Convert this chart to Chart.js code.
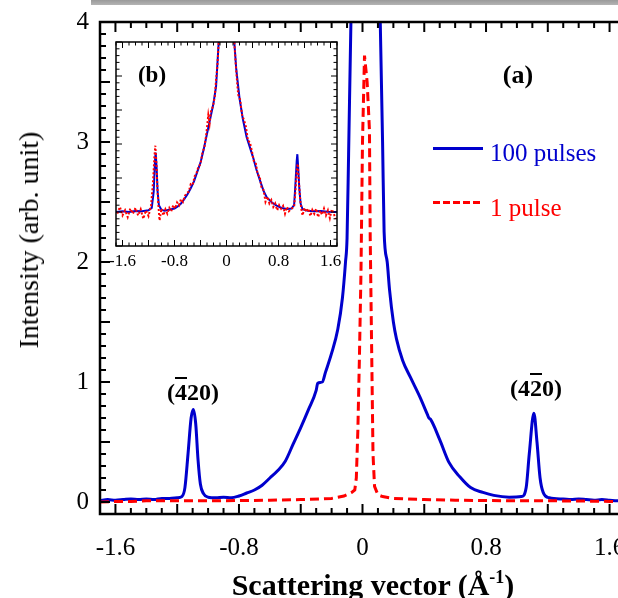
<!DOCTYPE html>
<html>
<head>
<meta charset="utf-8">
<script src="https://cdn.jsdelivr.net/npm/chart.js@4.4.1/dist/chart.umd.min.js"></script>
<style>
  html, body { margin: 0; padding: 0; background: #fff; overflow: hidden; }
  #page { position: relative; width: 618px; height: 598px; overflow: hidden;
          font-family: "Liberation Serif", "Times New Roman", serif; color: #000; }
  #topBar { position: absolute; left: 91px; top: 0; width: 527px; height: 5px;
            background: linear-gradient(#9a9a9a, #b4b4b4); }
  #mainWrap { position: absolute; left: 0; top: 0; width: 640px; height: 598px; }
  #insetWrap { position: absolute; left: 96px; top: 36px; width: 260px; height: 240px; }
  .txt { position: absolute; white-space: nowrap; line-height: 1; transform: translate(-50%, -50%); }
  .bold { font-weight: bold; }
  .ov { text-decoration: overline; text-decoration-thickness: 2px; }
  .legLine { position: absolute; height: 3px; }
  .legText { position: absolute; white-space: nowrap; line-height: 1; font-size: 25px; transform: translateY(-50%); }
  sup { font-size: 0.6em; vertical-align: 0.65em; line-height: 0; }
</style>
</head>
<body>
<div id="page">
  <div id="topBar"></div>
  <div id="mainWrap"><canvas id="mainChart" width="640" height="598"></canvas></div>
  <div id="insetWrap"><canvas id="insetChart" width="260" height="240"></canvas></div>

  <div class="txt" style="left:29px; top:240px; font-size:28px; transform:translate(-50%,-50%) rotate(-90deg);">Intensity (arb. unit)</div>
  <div class="txt bold" style="left:373px; top:585px; font-size:30px;">Scattering vector (Å<sup>-1</sup>)</div>

  <div class="txt bold" style="left:518px; top:75px; font-size:26px;">(a)</div>
  <div class="txt bold" style="left:152px; top:74px; font-size:23px;">(b)</div>

  <div class="txt bold" style="left:193px; top:392px; font-size:24px;">(<span class="ov">4</span>20)</div>
  <div class="txt bold" style="left:536px; top:388px; font-size:24px;">(4<span class="ov">2</span>0)</div>

  <div class="legLine" style="left:433px; top:147px; width:50px; background:#0000cd;"></div>
  <div class="legText" style="left:490px; top:152px; color:#0000cd;">100 pulses</div>
  <div class="legLine" style="left:433px; top:201px; width:50px;
       background:repeating-linear-gradient(to right, #ff0000 0 7px, transparent 7px 10px);"></div>
  <div class="legText" style="left:490px; top:207px; color:#ff0000;">1 pulse</div>
</div>

<script>
// ---- main panel (a): intensity vs scattering vector ----
const q100 = [-1.70, -1.65, -1.60, -1.55, -1.50, -1.45, -1.40, -1.35, -1.30, -1.25, -1.20, -1.17,
  -1.15, -1.13, -1.11, -1.095, -1.08, -1.065, -1.05, -1.03, -1.00, -0.95, -0.90, -0.85, -0.80,
  -0.75, -0.70, -0.65, -0.60, -0.55, -0.50, -0.45, -0.40, -0.35, -0.30, -0.29, -0.26, -0.24,
  -0.20, -0.16, -0.13, -0.11, -0.10, -0.09, -0.075, -0.05, 0.02, 0.09, 0.115, 0.13, 0.14, 0.16,
  0.175, 0.20, 0.22, 0.26, 0.31, 0.37, 0.42, 0.43, 0.44, 0.50, 0.56, 0.63, 0.70, 0.78, 0.85,
  0.95, 1.03, 1.06, 1.08, 1.11, 1.13, 1.15, 1.17, 1.21, 1.30, 1.35, 1.40, 1.45, 1.50, 1.55,
  1.60, 1.65, 1.70];
const pulses100 = [0.01, 0.02, 0.015, 0.02, 0.025, 0.02, 0.025, 0.02, 0.03, 0.03, 0.035, 0.045,
  0.12, 0.40, 0.70, 0.77, 0.65, 0.35, 0.15, 0.07, 0.04, 0.035, 0.04, 0.035, 0.05,
  0.075, 0.10, 0.14, 0.20, 0.26, 0.34, 0.48, 0.62, 0.77, 0.93, 0.99, 1.00, 1.08,
  1.24, 1.44, 1.70, 2.00, 2.20, 2.90, 4.00, 5.50, 7.00, 5.50, 4.00, 3.00, 2.25, 2.00,
  1.77, 1.50, 1.36, 1.18, 1.04, 0.88, 0.73, 0.70, 0.69, 0.52, 0.33, 0.21, 0.12, 0.08, 0.055,
  0.04, 0.045, 0.12, 0.40, 0.74, 0.50, 0.20, 0.08, 0.035, 0.025, 0.02, 0.025, 0.02, 0.015, 0.02,
  0.015, 0.01, 0.01];

const q1 = [-1.70, -1.60, -1.50, -1.40, -1.20, -1.00, -0.80, -0.60, -0.40, -0.20, -0.12, -0.07,
  -0.05, -0.04, -0.03, -0.02, -0.01, 0.00, 0.013, 0.03, 0.045, 0.05, 0.06, 0.068, 0.078, 0.10,
  0.13, 0.20, 0.40, 0.60, 0.80, 1.00, 1.20, 1.40, 1.60, 1.70];
const pulse1 = [0.0, 0.005, 0.005, 0.01, 0.01, 0.01, 0.012, 0.015, 0.02, 0.03, 0.05, 0.08,
  0.10, 0.20, 0.60, 1.20, 1.90, 3.00, 3.72, 3.50, 3.10, 2.20, 1.20, 0.40, 0.13, 0.06,
  0.045, 0.03, 0.02, 0.015, 0.012, 0.01, 0.01, 0.008, 0.005, 0.0];

const xLabels = [-1.6, -0.8, 0, 0.8, 1.6];
const yLabels = [0, 1, 2, 3, 4];

// ---- inset (b): same scan, magnified ----
const insetQ100 = [-1.70, -1.60, -1.50, -1.40, -1.30, -1.20, -1.15, -1.12, -1.10, -1.09, -1.075,
  -1.06, -1.04, -1.00, -0.95, -0.90, -0.85, -0.80, -0.75, -0.70, -0.65, -0.60, -0.55, -0.50,
  -0.45, -0.40, -0.35, -0.30, -0.25, -0.20, -0.16, -0.14, -0.12, -0.10, 0.0, 0.10, 0.12, 0.15,
  0.20, 0.25, 0.31, 0.36, 0.41, 0.46, 0.52, 0.57, 0.62, 0.70, 0.77, 0.85, 0.93, 1.00, 1.04,
  1.06, 1.08, 1.09, 1.10, 1.12, 1.14, 1.17, 1.25, 1.34, 1.45, 1.55, 1.70];
const inset100 = [0.0, 0.02, 0.0, 0.03, 0.02, 0.05, 0.12, 0.6, 1.5, 1.75, 1.3,
  0.6, 0.2, 0.06, 0.04, 0.06, 0.08, 0.10, 0.16, 0.25, 0.38, 0.52, 0.70, 0.90,
  1.18, 1.45, 1.85, 2.30, 2.75, 3.20, 3.70, 4.35, 5.0, 6.0, 9.0, 6.0, 5.0, 4.2,
  3.35, 2.75, 2.20, 1.90, 1.60, 1.25, 0.90, 0.62, 0.43, 0.28, 0.19, 0.12, 0.09, 0.10, 0.20,
  0.80, 1.50, 1.70, 1.40, 0.70, 0.25, 0.08, 0.04, 0.02, 0.03, 0.01, 0.0];

const insetQ1 = [-1.68, -1.64, -1.60, -1.56, -1.52, -1.48, -1.44, -1.40, -1.36, -1.32, -1.28,
  -1.24, -1.20, -1.16, -1.13, -1.11, -1.095, -1.08, -1.065, -1.05, -1.03, -1.00, -0.97, -0.94,
  -0.91, -0.88, -0.85, -0.82, -0.79, -0.76, -0.73, -0.70, -0.67, -0.64, -0.61, -0.58, -0.55,
  -0.52, -0.49, -0.46, -0.43, -0.40, -0.37, -0.34, -0.31, -0.28, -0.26, -0.24, -0.21, -0.18,
  -0.16, -0.14, -0.12, -0.10, 0.0, 0.10, 0.12, 0.14, 0.16, 0.18, 0.21, 0.24, 0.27, 0.30, 0.33,
  0.36, 0.39, 0.42, 0.45, 0.48, 0.51, 0.54, 0.57, 0.60, 0.63, 0.66, 0.69, 0.72, 0.75, 0.78,
  0.81, 0.84, 0.87, 0.90, 0.93, 0.96, 1.00, 1.04, 1.06, 1.08, 1.095, 1.11, 1.13, 1.15, 1.17,
  1.20, 1.23, 1.26, 1.29, 1.32, 1.35, 1.38, 1.41, 1.44, 1.47, 1.50, 1.53, 1.56, 1.59, 1.62,
  1.65, 1.68];
const inset1 = [-0.05, 0.15, -0.10, 0.05, -0.15, 0.10, -0.05, 0.12, -0.10, 0.08, -0.20,
  0.05, -0.12, 0.20, 0.90, 1.60, 1.95, 1.50, 0.80, 0.25, -0.25, 0.10, -0.10, 0.08,
  -0.05, 0.12, 0.02, 0.20, 0.10, 0.28, 0.20, 0.38, 0.30, 0.48, 0.55, 0.60, 0.82,
  0.80, 1.05, 1.15, 1.35, 1.40, 1.75, 1.90, 2.30, 2.85, 2.60, 2.95, 3.10, 3.40,
  3.90, 4.30, 5.0, 6.5, 9.0, 6.5, 5.0, 4.4, 3.9, 3.45, 3.30, 2.85, 2.70, 2.50, 2.10,
  2.05, 1.80, 1.50, 1.45, 1.10, 1.05, 0.70, 0.65, 0.30, 0.45, 0.25, 0.35, 0.15, 0.25, 0.05,
  0.20, 0.10, 0.18, -0.05, 0.15, 0.02, 0.10, 0.15, 0.60, 1.20, 1.42, 1.00, 0.45, 0.10, -0.10,
  0.12, 0.0, 0.10, -0.12, 0.06, -0.05, 0.10, -0.15, 0.04, -0.08, 0.10, -0.10, 0.05, -0.18, 0.08,
  -0.05, -0.20];

const insetXLabels = [-1.6, -0.8, 0, 0.8, 1.6];

const BLUE = '#0000cd';
const RED = '#ff0000';
const SERIF = "'Liberation Serif', 'Times New Roman', serif";

const toPoints = (xs, ys) => xs.map((x, i) => ({ x: x, y: ys[i] }));

// inward ticks (bottom/top/left, right optional) plus the frame
const frameTicks = {
    id: 'frameTicks',
    afterDatasetsDraw(chart, args, o) {
        const { ctx, chartArea: a, scales: { x, y } } = chart;
        ctx.save();
        ctx.strokeStyle = '#000';
        ctx.lineWidth = o.tickWidth;
        ctx.beginPath();
        for (let i = Math.ceil(x.min / o.xStep - 1e-6); i * o.xStep <= x.max + 1e-6; i++) {
            const px = x.getPixelForValue(i * o.xStep);
            const len = (i % o.xMajorEvery === 0) ? o.majorLen : o.minorLen;
            ctx.moveTo(px, a.bottom); ctx.lineTo(px, a.bottom - len);
            ctx.moveTo(px, a.top); ctx.lineTo(px, a.top + len);
        }
        for (let i = Math.ceil(y.min / o.yStep - 1e-6); i * o.yStep <= y.max + 1e-6; i++) {
            const py = y.getPixelForValue(i * o.yStep);
            const len = (i % o.yMajorEvery === 0) ? o.majorLen : o.minorLen;
            ctx.moveTo(a.left, py); ctx.lineTo(a.left + len, py);
            if (o.rightTicks) { ctx.moveTo(a.right, py); ctx.lineTo(a.right - len, py); }
        }
        ctx.stroke();
        ctx.lineWidth = o.frameWidth;
        ctx.strokeRect(a.left, a.top, a.right - a.left, a.bottom - a.top);
        ctx.restore();
    }
};

Chart.register(frameTicks);

const fmt = v => String(Math.round(v * 10) / 10);

// keep the plot box fixed: no extra room reserved for overhanging end labels
const noLabelPad = s => { s.paddingLeft = 0; s.paddingRight = 0; s.paddingTop = 0; s.paddingBottom = 0; };

new Chart(document.getElementById('mainChart'), {
    type: 'line',
    data: {
        datasets: [
            {
                label: '1 pulse',
                data: toPoints(q1, pulse1),
                borderColor: RED,
                borderWidth: 3,
                borderDash: [9, 5],
                pointRadius: 0,
                order: 0
            },
            {
                label: '100 pulses',
                data: toPoints(q100, pulses100),
                borderColor: BLUE,
                borderWidth: 3,
                pointRadius: 0,
                cubicInterpolationMode: 'monotone',
                order: 1
            }
        ]
    },
    options: {
        responsive: false,
        animation: false,
        layout: { padding: { top: 22, right: 15, left: 0, bottom: 0 } },
        plugins: {
            legend: { display: false },
            tooltip: { enabled: false },
            frameTicks: { tickWidth: 2, frameWidth: 2.5, majorLen: 10, minorLen: 6, rightTicks: false,
                          xStep: 0.1, xMajorEvery: 4, yStep: 0.1, yMajorEvery: 5 }
        },
        scales: {
            x: {
                type: 'linear', min: -1.7, max: 1.7,
                afterBuildTicks: s => { s.ticks = xLabels.map(v => ({ value: v })); },
                afterFit: s => { s.height = 84; noLabelPad(s); },
                grid: { display: false, drawTicks: false },
                border: { display: false },
                ticks: { color: '#000', padding: 19, maxRotation: 0, autoSkip: false,
                         font: { family: SERIF, size: 25 }, callback: v => fmt(v) }
            },
            y: {
                type: 'linear', min: -0.1, max: 4,
                afterBuildTicks: s => { s.ticks = yLabels.map(v => ({ value: v })); },
                afterFit: s => { s.width = 100; noLabelPad(s); },
                grid: { display: false, drawTicks: false },
                border: { display: false },
                ticks: { color: '#000', padding: 11, autoSkip: false,
                         font: { family: SERIF, size: 25 }, callback: v => fmt(v) }
            }
        }
    }
});

new Chart(document.getElementById('insetChart'), {
    type: 'line',
    data: {
        datasets: [
            {
                label: '1 pulse',
                data: toPoints(insetQ1, inset1),
                borderColor: RED,
                borderWidth: 2,
                borderDash: [2, 2],
                pointRadius: 0,
                order: 0
            },
            {
                label: '100 pulses',
                data: toPoints(insetQ100, inset100),
                borderColor: BLUE,
                borderWidth: 2,
                pointRadius: 0,
                order: 1
            }
        ]
    },
    options: {
        responsive: false,
        animation: false,
        layout: { padding: { top: 6, right: 19, left: 0, bottom: 0 } },
        plugins: {
            legend: { display: false },
            tooltip: { enabled: false },
            frameTicks: { tickWidth: 1, frameWidth: 1.5, majorLen: 6, minorLen: 3.5, rightTicks: true,
                          xStep: 0.1, xMajorEvery: 4, yStep: 0.2, yMajorEvery: 5 }
        },
        scales: {
            x: {
                type: 'linear', min: -1.7, max: 1.7,
                afterBuildTicks: s => { s.ticks = insetXLabels.map(v => ({ value: v })); },
                afterFit: s => { s.height = 30; noLabelPad(s); },
                grid: { display: false, drawTicks: false },
                border: { display: false },
                ticks: { color: '#000', padding: 5, maxRotation: 0, autoSkip: false,
                         font: { family: SERIF, size: 17 }, callback: v => fmt(v) }
            },
            y: {
                type: 'linear', min: -1, max: 5,
                afterFit: s => { s.width = 20; noLabelPad(s); },
                grid: { display: false, drawTicks: false },
                border: { display: false },
                ticks: { display: false }
            }
        }
    }
});
</script>
</body>
</html>
